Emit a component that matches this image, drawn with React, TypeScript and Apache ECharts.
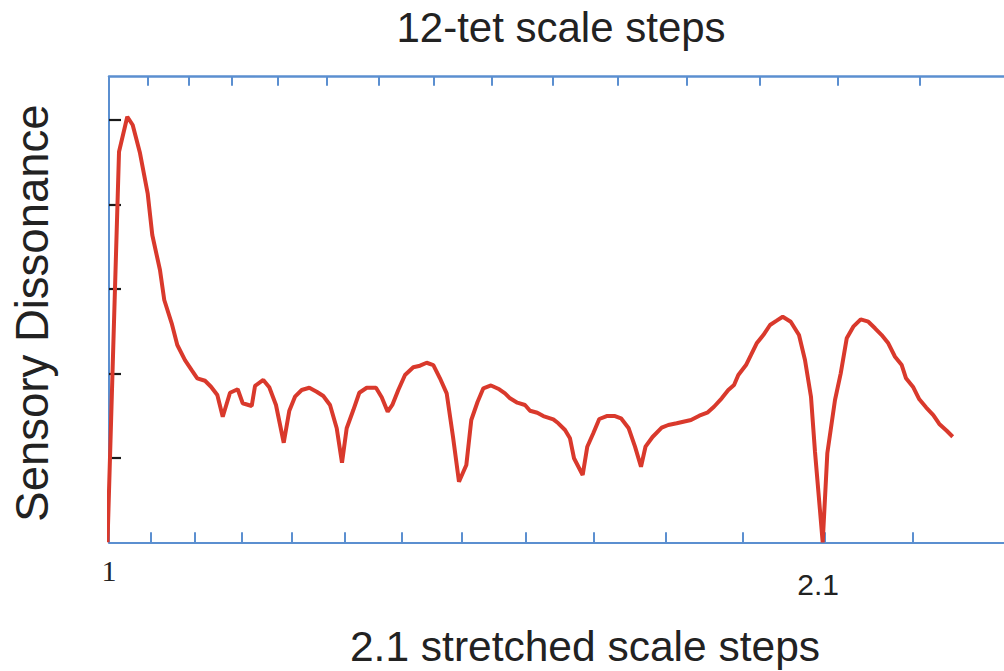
import React, { useEffect, useRef } from "react";
import * as echarts from "echarts";

// Curve: sensory dissonance vs. interval ratio
const ratios: number[] = [
  0.9977, 1.0154, 1.0281, 1.0364, 1.0476, 1.0594, 1.0665, 1.0783, 1.0849, 1.0963,
  1.1049, 1.1167, 1.127, 1.1356, 1.1475, 1.1567, 1.1664, 1.1747, 1.1859, 1.1977,
  1.2054, 1.2192, 1.2243, 1.237, 1.2462, 1.2565, 1.2684, 1.277, 1.2857, 1.296,
  1.3077, 1.319, 1.3292, 1.3395, 1.3498, 1.3579, 1.3651, 1.3753, 1.3845, 1.3959,
  1.4101, 1.4189, 1.4281, 1.4352, 1.4444, 1.4547, 1.4674, 1.4777, 1.488, 1.4982,
  1.5084, 1.5187, 1.5284, 1.5376, 1.5489, 1.5565, 1.5661, 1.575, 1.5868, 1.5995,
  1.6083, 1.616, 1.6272, 1.639, 1.6467, 1.6579, 1.6671, 1.6825, 1.6902, 1.7005,
  1.7081, 1.7143, 1.7276, 1.7347, 1.7439, 1.7531, 1.7645, 1.7773, 1.7865, 1.7983,
  1.808, 1.8172, 1.8241, 1.8349, 1.849, 1.8591, 1.872, 1.8822, 1.894, 1.9068,
  1.919, 1.9293, 1.9412, 1.9513, 1.9601, 1.9667, 1.9785, 1.9862, 1.9949, 2.0051,
  2.0154, 2.0256, 2.0349, 2.0472, 2.0599, 2.0691, 2.0783, 2.0845, 2.0963, 2.1034,
  2.1152, 2.124, 2.1332, 2.1433, 2.1547, 2.1664, 2.1767, 2.1869, 2.1971, 2.2074,
  2.2177, 2.2243, 2.2355, 2.2447, 2.255, 2.2662, 2.2754, 2.2868, 2.296,
];
const dissonance: number[] = [
  0.0, 4.625, 5.039, 4.941, 4.609, 4.132, 3.638, 3.224, 2.869, 2.593,
  2.336, 2.158, 2.04, 1.942, 1.913, 1.842, 1.744, 1.487, 1.771, 1.812,
  1.646, 1.614, 1.851, 1.922, 1.835, 1.626, 1.179, 1.558, 1.724, 1.803,
  1.83, 1.783, 1.732, 1.626, 1.35, 0.942, 1.35, 1.566, 1.771, 1.83,
  1.83, 1.717, 1.546, 1.626, 1.803, 1.981, 2.072, 2.091, 2.126, 2.099,
  1.942, 1.764, 1.25, 0.717, 0.915, 1.448, 1.661, 1.823, 1.857, 1.812,
  1.764, 1.705, 1.653, 1.626, 1.558, 1.534, 1.495, 1.456, 1.409, 1.33,
  1.231, 0.995, 0.797, 1.132, 1.291, 1.46, 1.495, 1.495, 1.468, 1.35,
  1.132, 0.895, 1.132, 1.247, 1.357, 1.389, 1.409, 1.428, 1.448, 1.499,
  1.534, 1.605, 1.705, 1.803, 1.862, 1.981, 2.099, 2.218, 2.356, 2.454,
  2.573, 2.624, 2.671, 2.612, 2.454, 2.158, 1.724, 1.069, 0.0, 1.054,
  1.685, 2.001, 2.415, 2.553, 2.64, 2.612, 2.534, 2.454, 2.356, 2.197,
  2.099, 1.942, 1.835, 1.693, 1.598, 1.507, 1.401, 1.321, 1.25,
];

// 12-tet scale steps (top axis ticks)
const tetSteps: number[] = [
  1.0595, 1.1225, 1.1892, 1.2599, 1.3348, 1.4142, 1.4983, 1.5874, 1.6818,
  1.7818, 1.8877, 2.0, 2.1189, 2.2449,
];
// 2.1 stretched scale steps (bottom axis ticks)
const stretchedSteps: number[] = [
  1.0638, 1.1316, 1.2038, 1.2806, 1.3623, 1.4491, 1.5416, 1.6399, 1.7445,
  1.8558, 1.9741, 2.1, 2.234,
];
const bottomLabels: number[] = [1, 2.1];
const yTicks: number[] = [1, 2, 3, 4, 5];

const X_MIN = 1;
const X_MAX = 2.3748;
const Y_MAX = 5.513;

const AXIS_BLUE = "#5b8fd0";
const RED = "#d9392c";
const SANS = "'Liberation Sans', Arial, Helvetica, sans-serif";
const SERIF = "'Liberation Serif', 'Times New Roman', serif";

export default function App() {
  const ref = useRef<HTMLDivElement>(null);

  useEffect(() => {
    if (!ref.current) return;
    const chart = echarts.init(ref.current, undefined, { renderer: "svg" });
    const data = ratios.map((r, i) => [r, dissonance[i]]);
    chart.setOption({
      animation: false,
      backgroundColor: "#ffffff",
      grid: { left: 109, top: 76.7, width: 895, height: 465.6, containLabel: false },
      xAxis: [
        {
          type: "value",
          position: "bottom",
          min: X_MIN,
          max: X_MAX,
          axisLine: { show: true, lineStyle: { color: AXIS_BLUE, width: 2 } },
          axisTick: {
            show: true,
            inside: true,
            length: 10,
            customValues: stretchedSteps,
            lineStyle: { color: AXIS_BLUE, width: 2 },
          },
          axisLabel: {
            show: true,
            customValues: bottomLabels,
            margin: 13,
            formatter: (v: number) => (v === 1 ? "{a|1}" : "{b|2.1}"),
            rich: {
              a: { fontFamily: SERIF, fontSize: 30, color: "#222" },
              b: { fontFamily: SANS, fontSize: 30, color: "#222", padding: [14, 14, 0, 0] },
            },
          },
          splitLine: { show: false },
        },
        {
          type: "value",
          position: "top",
          min: X_MIN,
          max: X_MAX,
          axisLine: { show: true, lineStyle: { color: AXIS_BLUE, width: 2.5 } },
          axisTick: {
            show: true,
            inside: true,
            length: 9,
            customValues: tetSteps,
            lineStyle: { color: AXIS_BLUE, width: 2 },
          },
          axisLabel: { show: false },
          splitLine: { show: false },
        },
      ],
      yAxis: {
        type: "value",
        min: 0,
        max: Y_MAX,
        axisLine: { show: true, lineStyle: { color: AXIS_BLUE, width: 2 } },
        axisTick: {
          show: true,
          inside: true,
          length: 12,
          customValues: yTicks,
          lineStyle: { color: "#1a1a1a", width: 2.2 },
        },
        axisLabel: { show: false },
        splitLine: { show: false },
      },
      series: [
        {
          type: "line",
          xAxisIndex: 0,
          data,
          showSymbol: false,
          symbol: "none",
          clip: false,
          lineStyle: { color: RED, width: 4 },
          z: 3,
        },
      ],
      graphic: [
        {
          type: "text",
          x: 561,
          y: 27,
          style: {
            text: "12-tet scale steps",
            fontFamily: SANS,
            fontSize: 42,
            fill: "#222",
            textAlign: "center",
            textVerticalAlign: "middle",
          },
        },
        {
          type: "text",
          x: 585,
          y: 646,
          style: {
            text: "2.1 stretched scale steps",
            fontFamily: SANS,
            fontSize: 42.5,
            fill: "#222",
            textAlign: "center",
            textVerticalAlign: "middle",
          },
        },
        {
          type: "text",
          x: 32,
          y: 313,
          rotation: Math.PI / 2,
          style: {
            text: "Sensory Dissonance",
            fontFamily: SANS,
            fontSize: 45.5,
            fill: "#222",
            textAlign: "center",
            textVerticalAlign: "middle",
          },
        },
      ],
    });
    return () => chart.dispose();
  }, []);

  return (
    <div
      ref={ref}
      style={{ position: "fixed", left: 0, top: 0, width: 1004, height: 671, background: "#fff" }}
    />
  );
}
